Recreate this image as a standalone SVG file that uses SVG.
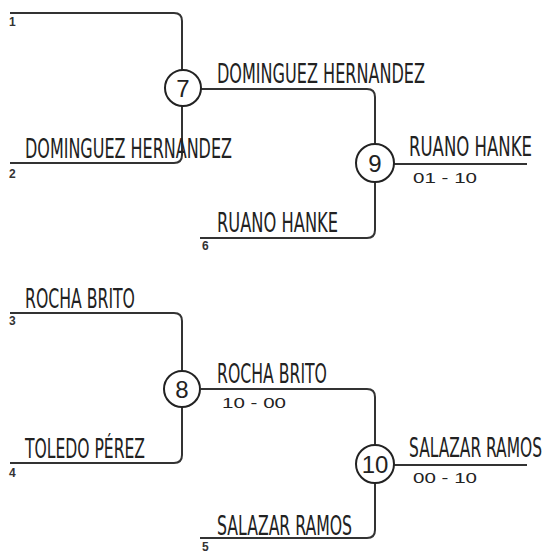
<svg xmlns="http://www.w3.org/2000/svg" width="548" height="553" viewBox="0 0 548 553">
<style>
.ln{fill:none;stroke:#333;stroke-width:2}
.nm{font-family:"DejaVu Sans Condensed","DejaVu Sans",sans-serif;font-size:27px;fill:#222}
.sd{font-family:"Liberation Sans",Arial,sans-serif;font-size:12px;font-weight:bold;fill:#333}
.sc{font-family:"Liberation Sans",Arial,sans-serif;font-size:15px;fill:#222}
.ci{fill:#fff;stroke:#222;stroke-width:2}
.cn{font-family:"Liberation Sans",Arial,sans-serif;font-size:24px;fill:#222;text-anchor:middle}
</style>
<rect width="548" height="553" fill="#fff"/>
<g id="connectors">
<path class="ln" d="M10,13 H174 Q182,13 182,21 V155 Q182,163 174,163 H10"/>
<path class="ln" d="M201,89 H367 Q375,89 375,97 V230 Q375,238 367,238 H200"/>
<path class="ln" d="M394,164 H527"/>
<path class="ln" d="M10,313 H174 Q182,313 182,321 V455 Q182,463 174,463 H10"/>
<path class="ln" d="M201,389 H367 Q375,389 375,397 V530 Q375,538 367,538 H200"/>
<path class="ln" d="M394,465 H527"/>
</g>
<g id="seeds">
<text class="sd" x="9" y="26">1</text>
<text class="sd" x="9" y="178">2</text>
<text class="sd" x="202" y="250">6</text>
<text class="sd" x="9" y="325">3</text>
<text class="sd" x="9" y="477">4</text>
<text class="sd" x="202" y="551">5</text>
</g>
<g id="entries">
<text class="nm" transform="translate(25,158) scale(0.7,1)" textLength="295.7" lengthAdjust="spacingAndGlyphs">DOMINGUEZ HERNANDEZ</text>
<text class="nm" transform="translate(217,83) scale(0.7,1)" textLength="297.1" lengthAdjust="spacingAndGlyphs">DOMINGUEZ HERNANDEZ</text>
<text class="nm" transform="translate(217,232) scale(0.7,1)" textLength="172.9" lengthAdjust="spacingAndGlyphs">RUANO HANKE</text>
<text class="nm" transform="translate(409,156) scale(0.7,1)" textLength="175.7" lengthAdjust="spacingAndGlyphs">RUANO HANKE</text>
<text class="sc" x="413" y="183" textLength="64" lengthAdjust="spacingAndGlyphs">01 - 10</text>
<text class="nm" transform="translate(25,308) scale(0.7,1)" textLength="157.1" lengthAdjust="spacingAndGlyphs">ROCHA BRITO</text>
<text class="nm" transform="translate(25,458) scale(0.7,1)" textLength="171.4" lengthAdjust="spacingAndGlyphs">TOLEDO PÉREZ</text>
<text class="nm" transform="translate(217,383) scale(0.7,1)" textLength="157.1" lengthAdjust="spacingAndGlyphs">ROCHA BRITO</text>
<text class="sc" x="222" y="408" textLength="64" lengthAdjust="spacingAndGlyphs">10 - 00</text>
<text class="nm" transform="translate(409,457) scale(0.5,1)" textLength="266" lengthAdjust="spacingAndGlyphs">SALAZAR RAMOS</text>
<text class="sc" x="413" y="483" textLength="64" lengthAdjust="spacingAndGlyphs">00 - 10</text>
<text class="nm" transform="translate(217,535) scale(0.7,1)" textLength="192.9" lengthAdjust="spacingAndGlyphs">SALAZAR RAMOS</text>
</g>
<g id="match7"><circle class="ci" cx="183" cy="88" r="18"/><text class="cn" x="183" y="97">7</text></g>
<g id="match9"><circle class="ci" cx="375" cy="163" r="19"/><text class="cn" x="375" y="172">9</text></g>
<g id="match8"><circle class="ci" cx="182" cy="389" r="18"/><text class="cn" x="182" y="398">8</text></g>
<g id="match10"><circle class="ci" cx="375" cy="464" r="19"/><text class="cn" x="375" y="473">10</text></g>
</svg>
